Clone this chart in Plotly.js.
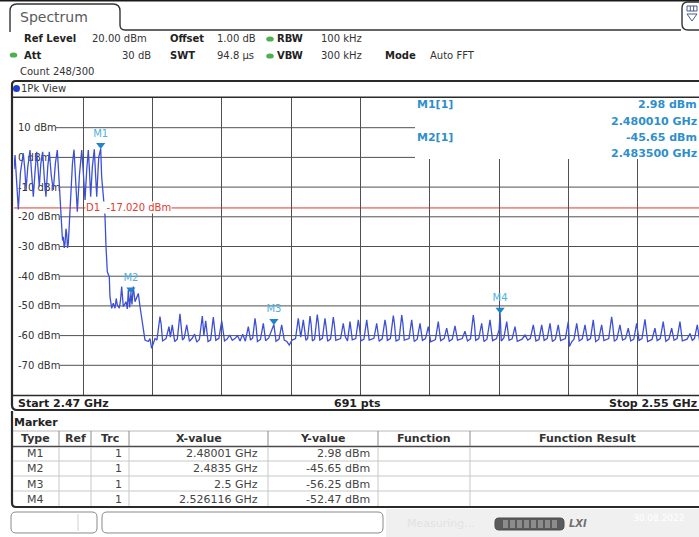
<!DOCTYPE html>
<html><head><meta charset="utf-8">
<script src="https://cdn.plot.ly/plotly-3.0.1.min.js"></script>
<style>html,body{margin:0;padding:0;background:#fff;overflow:hidden}#chart{width:699px;height:537px}</style>
</head><body><div id="chart"></div>
<script>
// ---------------- DATA ----------------
const startMHz = 2470, stopMHz = 2550, sweepPoints = 691;
const refLevelDbm = 20, rangeDb = 100;
// trace 1 (frequency MHz, level dBm)
const signalPoints = [
 [2470.00,-4.0],[2470.12,0.8],[2470.30,-8.0],[2470.50,-17.5],[2470.75,-5.0],[2471.07,1.4],[2471.25,-4.0],[2471.39,-11.0],
 [2471.60,-3.0],[2471.85,2.5],[2472.05,-6.0],[2472.23,-13.2],[2472.45,-4.0],[2472.62,1.9],[2472.78,-4.0],[2472.92,-9.9],
 [2473.10,-2.0],[2473.31,1.9],[2473.50,-7.0],[2473.69,-13.2],[2473.90,-3.0],[2474.08,1.9],[2474.30,-6.0],[2474.54,-11.0],
 [2474.78,-2.0],[2475.00,2.5],[2475.15,-5.0],[2475.31,-13.0],[2475.42,-20.0],[2475.50,-24.5],[2475.60,-28.0],[2475.69,-26.7],
 [2475.80,-30.5],[2475.89,-29.0],[2476.00,-24.0],[2476.08,-25.6],[2476.18,-30.5],[2476.27,-29.0],[2476.40,-22.0],[2476.54,-14.3],
 [2476.75,-2.0],[2476.93,2.6],[2477.12,-8.0],[2477.31,-18.3],[2477.55,-6.0],[2477.82,2.5],[2478.00,-5.0],[2478.20,-14.3],
 [2478.40,-4.0],[2478.58,2.5],[2478.72,-5.0],[2478.85,-13.2],[2479.05,-3.0],[2479.27,2.7],[2479.42,-6.0],[2479.55,-13.2],
 [2479.78,0.0],[2480.01,2.98],[2480.12,-6.5],[2480.30,-14.3],[2480.50,-19.4],[2480.62,-30.0],[2480.77,-38.5],[2481.00,-40.2]
];
const skirtPoints = [
 [2481.08,-46.9],[2481.28,-50.8],[2481.46,-49.1],[2481.66,-50.8],[2481.80,-47.5],[2481.93,-49.7],[2482.16,-50.8],[2482.30,-48.0],
 [2482.43,-43.5],[2482.62,-50.3],[2482.80,-49.5],[2482.93,-48.6],[2483.08,-51.0],[2483.20,-44.6],[2483.35,-50.5],[2483.50,-45.65],
 [2483.62,-49.5],[2483.77,-43.5],[2483.97,-48.6],[2484.15,-47.0],[2484.35,-45.8],[2484.55,-50.3],[2484.74,-54.7],[2484.93,-58.1],
 [2485.12,-61.5],[2485.50,-62.0],[2485.70,-61.0],[2485.89,-64.3],[2486.10,-62.5],[2486.28,-61.0]
];
const floorPoints = [
 [2486.50,-61.5],[2486.85,-53.6],[2486.98,-56.0],[2487.15,-61.8],[2487.55,-61.0],[2487.89,-57.0],[2488.05,-60.5],[2488.27,-56.4],[2488.55,-62.0],
 [2488.85,-61.2],[2489.16,-52.7],[2489.28,-55.5],[2489.45,-61.5],[2489.65,-60.8],[2489.94,-56.4],[2490.25,-61.9],[2490.55,-61.0],[2490.85,-59.5],
 [2491.10,-62.2],[2491.40,-61.3],[2491.74,-53.4],[2491.92,-60.0],[2492.13,-55.0],[2492.40,-62.0],[2492.70,-61.4],[2493.01,-53.8],[2493.14,-56.5],
 [2493.30,-61.6],[2493.65,-60.9],[2493.98,-55.0],[2494.30,-61.8],[2494.60,-61.2],[2494.90,-59.8],[2495.20,-61.6],[2495.50,-61.0],
 [2495.80,-60.0],[2496.10,-61.8],[2496.40,-59.5],[2496.70,-61.9],[2497.05,-57.0],[2497.30,-61.5],[2497.55,-60.9],[2497.82,-54.2],[2497.95,-56.8],
 [2498.10,-62.0],[2498.45,-61.3],[2498.78,-55.9],[2499.05,-61.7],[2499.40,-60.8],[2499.70,-58.5],[2500.00,-56.25],[2500.25,-61.9],
 [2500.60,-61.2],[2500.90,-56.4],[2501.20,-61.5],[2501.50,-62.0],[2501.78,-63.2],[2502.10,-61.5],[2502.50,-61.0],[2502.82,-54.2],[2502.95,-56.6],
 [2503.10,-60.5],[2503.40,-54.7],[2503.70,-61.6],[2503.90,-61.0],[2504.17,-53.4],[2504.30,-56.2],[2504.45,-61.8],[2504.70,-61.2],[2505.01,-52.9],[2505.14,-55.8],
 [2505.30,-61.5],[2505.60,-60.9],[2505.90,-54.2],[2506.03,-57.0],[2506.20,-61.9],[2506.55,-61.1],[2506.86,-53.8],[2506.99,-56.5],[2507.15,-61.6],[2507.70,-61.0],
 [2508.01,-55.9],[2508.25,-60.4],[2508.50,-61.8],[2508.79,-55.3],[2509.05,-61.4],[2509.45,-61.0],[2509.75,-54.7],[2509.88,-57.2],[2510.05,-61.8],
 [2510.40,-61.2],[2510.72,-54.7],[2511.00,-61.5],[2511.55,-60.9],[2511.87,-55.9],[2512.15,-61.9],[2512.50,-61.1],[2512.83,-54.7],[2512.96,-57.0],
 [2513.10,-61.6],[2513.45,-61.0],[2513.79,-53.3],[2513.92,-56.0],[2514.10,-61.8],[2514.45,-61.3],[2514.76,-53.1],[2514.89,-55.9],[2515.05,-61.5],[2515.60,-61.0],
 [2515.91,-54.7],[2516.20,-62.0],[2516.55,-61.2],[2516.87,-55.9],[2517.15,-61.6],[2517.50,-61.0],[2517.83,-57.0],[2518.10,-62.1],
 [2518.65,-61.3],[2518.98,-55.3],[2519.25,-61.7],[2519.65,-61.0],[2519.95,-57.5],[2520.25,-61.9],[2520.60,-61.2],[2520.91,-56.7],
 [2521.20,-61.5],[2521.75,-61.0],[2522.06,-58.5],[2522.35,-61.8],[2522.70,-61.1],[2523.02,-53.1],[2523.15,-56.0],[2523.30,-61.6],[2523.65,-61.0],
 [2523.99,-55.9],[2524.25,-62.0],[2524.60,-61.2],[2524.95,-54.7],[2525.25,-61.7],[2525.70,-61.0],[2526.00,-58.0],[2526.116,-52.47],
 [2526.25,-61.8],[2526.55,-60.8],[2526.88,-55.3],[2527.15,-61.6],[2527.50,-61.1],[2527.84,-57.0],[2528.10,-61.9],[2528.65,-61.2],
 [2528.99,-59.8],[2529.30,-61.5],[2529.60,-61.0],[2529.95,-56.4],[2530.25,-61.8],[2530.60,-61.3],[2530.92,-56.4],[2531.20,-61.6],
 [2531.55,-61.0],[2531.88,-55.9],[2532.15,-62.0],[2532.50,-61.2],[2532.83,-56.4],[2533.10,-61.7],[2533.65,-61.0],[2533.99,-55.3],
 [2534.12,-63.7],[2534.40,-62.0],[2534.65,-61.2],[2534.96,-55.9],[2535.25,-61.8],[2535.60,-61.1],[2535.92,-56.4],[2536.20,-61.6],
 [2536.55,-61.0],[2536.87,-54.7],[2537.15,-62.0],[2537.50,-61.3],[2537.84,-56.4],[2538.10,-61.7],[2538.65,-61.0],[2538.99,-53.7],[2539.12,-56.4],
 [2539.30,-61.9],[2539.60,-61.2],[2539.95,-56.4],[2540.25,-61.5],[2540.60,-61.0],[2540.91,-57.5],[2541.20,-61.8],[2541.55,-61.2],
 [2541.88,-55.9],[2542.15,-61.6],[2542.50,-61.0],[2542.84,-54.5],[2542.97,-57.0],[2543.15,-62.0],[2543.65,-61.3],[2543.99,-57.5],[2544.25,-61.7],
 [2544.60,-61.0],[2544.95,-55.3],[2545.25,-61.9],[2545.60,-61.2],[2545.92,-57.5],[2546.20,-61.6],[2546.55,-61.0],[2546.88,-55.3],
 [2547.15,-61.8],[2547.70,-61.2],[2548.04,-59.3],[2548.30,-61.6],[2548.55,-61.0],[2548.88,-56.4],[2549.15,-61.8],[2549.40,-61.2]
];
const markerNames = ['M1','M2','M3','M4'];
const markerFreqGHz = [2.48001, 2.4835, 2.5, 2.526116];
const markerFreqText = ['2.48001 GHz','2.4835 GHz','2.5 GHz','2.526116 GHz'];
const markerLevelDbm = [2.98, -45.65, -56.25, -52.47];
const markerLevelText = ['2.98 dBm','-45.65 dBm','-56.25 dBm','-52.47 dBm'];
const displayLineDbm = -17.02;
const yTickValues = [10,0,-10,-20,-30,-40,-50,-60,-70];
const yTickLabels = ['10 dBm','0 dBm','-10 dBm','-20 dBm','-30 dBm','-40 dBm','-50 dBm','-60 dBm','-70 dBm'];
const tableHeaders = ['Type','Ref','Trc','X-value','Y-value','Function','Function Result'];

// ---------------- LAYOUT HELPERS ----------------
const W = 699, H = 537;
const px = x => x / W;
const py = y => 1 - y / H;
const FONT = 'DejaVu Sans';
const plotL = 14, plotR = 699, plotT = 98, plotB = 395;
const pxPerMHz = 693 / (stopMHz - startMHz);
const xRangeEnd = startMHz + (plotR - plotL) / pxPerMHz;

const allPts = signalPoints.concat(skirtPoints, floorPoints);
const traceX = allPts.map(p => p[0]);
const traceY = allPts.map(p => p[1]);

function pth(s){ return s.replace(/(-?[\d.]+),(-?[\d.]+)/g,(m,a,b)=>px(+a).toFixed(5)+','+py(+b).toFixed(5)); }
function pshape(s, color, width, fill){ return {type:'path', xref:'paper', yref:'paper', path:pth(s), line:{color:color, width:width}, fillcolor:fill||'rgba(0,0,0,0)', layer:'above'}; }
function hline(x0,x1,y,color,width){ return {type:'line', xref:'paper', yref:'paper', x0:px(x0), x1:px(x1), y0:py(y), y1:py(y), line:{color:color,width:width}, layer:'above'}; }
function vline(x,y0,y1,color,width){ return {type:'line', xref:'paper', yref:'paper', x0:px(x), x1:px(x), y0:py(y0), y1:py(y1), line:{color:color,width:width}, layer:'above'}; }
function rect(x0,y0,x1,y1,fill,line,lw){ return {type:'rect', xref:'paper', yref:'paper', x0:px(x0), x1:px(x1), y0:py(y0), y1:py(y1), fillcolor:fill, line:{color:line||fill, width:lw||0}, layer:'above'}; }
function T(text,x,y,o){ o=o||{}; return {text:text, xref:'paper', yref:'paper', x:px(x), y:py(y), xanchor:o.anchor||'left', yanchor:'middle', showarrow:false, borderpad:0, font:{family:FONT, size:o.size||10, color:o.color||'#333'}}; }

const shapes = [];
const ann = [];

// horizontal grid lines (start right of the in-plot level labels)
const gridStartPx = [56, 50, 60, 60, 60, 60, 60, 60, 60];
yTickValues.forEach((v,i)=>shapes.push({type:'line', xref:'paper', yref:'y', x0:px(gridStartPx[i]), x1:1, y0:v, y1:v, line:{color:'#505050', width:1}, layer:'below'}));
// display line D1
shapes.push({type:'line', xref:'paper', yref:'y', x0:px(plotL), x1:1, y0:displayLineDbm, y1:displayLineDbm, line:{color:'#e0392e', width:1}, layer:'between'});
// marker info box covering the grid
shapes.push(rect(415, 98, 699, 159, '#ffffff'));

// header chrome
shapes.push(hline(0, 699, 0.8, '#1a1a1a', 1.6));
shapes.push(pshape('M10,32 L10,11 Q10,4 17,4 L113,4 Q120,4 120,11 L120,25 Q120,30 125,30 L681,30', '#333', 1.4));
shapes.push(pshape('M700,2 L688,2 Q682,2 682,8 L682,24 Q682,30 688,30 L700,30', '#333', 1.4));
shapes.push(rect(687, 6, 697, 11, '#ffffff', '#4a5a8a', 1));
shapes.push(vline(690.3, 6, 11, '#4a5a8a', 1));
shapes.push(vline(693.6, 6, 11, '#4a5a8a', 1));
shapes.push(pshape('M687,14 L697,14 L692,21 Z', '#4a5a8a', 1));
// green status dots
[[270,39],[13.5,55],[270,56]].forEach(d=>shapes.push({type:'circle', xref:'paper', yref:'paper', x0:px(d[0]-3.8), x1:px(d[0]+3.8), y0:py(d[1]-2.6), y1:py(d[1]+2.6), fillcolor:'#4cb050', line:{width:0}, layer:'above'}));
// blue trace dot
shapes.push({type:'circle', xref:'paper', yref:'paper', x0:px(13), x1:px(20), y0:py(85), y1:py(92), fillcolor:'#1f3fd0', line:{width:0}, layer:'above'});

// diagram frame
shapes.push(pshape('M700,81 L16,81 Q12,81 12,85 L12,405 Q12,410 17,410 L700,410', '#2a2a2a', 2.2));
shapes.push(hline(12, 699, 97.3, '#2a2a2a', 1.4));
shapes.push(hline(12, 699, 395.5, '#2a2a2a', 1.4));

// marker table frame
shapes.push(pshape('M12,411 L12,503 Q12,507 16,507 L700,507', '#2a2a2a', 2.2));
const colX = [59, 91, 129, 268, 378, 470];
shapes.push(hline(13, 699, 431, '#b8b8b8', 1));
shapes.push(hline(13, 699, 446.5, '#4a4a4a', 1.6));
[461, 476, 491].forEach(y=>shapes.push(hline(13, 699, y, '#c8c8c8', 1)));
colX.forEach(x=>{ shapes.push(vline(x, 431, 446, '#8a8a8a', 1)); shapes.push(vline(x, 447, 506, '#c8c8c8', 1)); });

// status bar
shapes.push(pshape('M16,512 L92,512 Q97,512 97,517 L97,528 Q97,533 92,533 L16,533 Q11,533 11,528 L11,517 Q11,512 16,512 Z', '#8a8a8a', 1, '#ffffff'));
shapes.push(vline(78, 514, 531, '#d0d0d0', 1));
shapes.push(pshape('M107,512 L378,512 Q383,512 383,517 L383,528 Q383,533 378,533 L107,533 Q102,533 102,528 L102,517 Q102,512 107,512 Z', '#8a8a8a', 1, '#ffffff'));
shapes.push(rect(386, 509, 699, 537, '#f0f0f0'));
shapes.push(pshape('M499,518 L560,518 Q564,518 564,522 L564,526 Q564,530 560,530 L499,530 Q495,530 495,526 L495,522 Q495,518 499,518 Z', '#4a4a4a', 1, '#5a5a5a'));
[503,510,517,524,531,538,545,552].forEach(x=>shapes.push(rect(x, 520, x+5, 528, '#8c8c8c')));

// header texts
ann.push(T('Spectrum', 19, 17, {size:14, color:'#5a5a5a'}));
ann.push(T('<b>Ref Level</b>', 23, 38.5, {color:'#222'}));
ann.push(T('20.00 dBm', 91, 38.5));
ann.push(T('<b>Offset</b>', 169, 38.5, {color:'#222'}));
ann.push(T('1.00 dB', 216, 38.5));
ann.push(T('<b>RBW</b>', 276, 38.5, {color:'#222'}));
ann.push(T('100 kHz', 320, 38.5));
ann.push(T('<b>Att</b>', 23, 55.5, {color:'#222'}));
ann.push(T('30 dB', 152, 55.5, {anchor:'right'}));
ann.push(T('<b>SWT</b>', 169, 55.5, {color:'#222'}));
ann.push(T('94.8 µs', 216, 55.5));
ann.push(T('<b>VBW</b>', 276, 55.5, {color:'#222'}));
ann.push(T('300 kHz', 320, 55.5));
ann.push(T('<b>Mode</b>', 384, 55.5, {color:'#222'}));
ann.push(T('Auto FFT', 429, 55.5));
ann.push(T('Count 248/300', 19, 72));
ann.push(T('1Pk View', 20, 88.5));

// marker info block
const infoBlue = '#2f8fcc';
ann.push(T('<b>M1[1]</b>', 416, 104, {size:11, color:infoBlue}));
ann.push(T('<b>M2[1]</b>', 416, 137, {size:11, color:infoBlue}));
ann.push(T('<b>' + markerLevelText[0] + '</b>', 698, 104, {size:11, color:infoBlue, anchor:'right'}));
ann.push(T('<b>' + markerFreqGHz[0].toFixed(6) + ' GHz</b>', 698, 121, {size:11, color:infoBlue, anchor:'right'}));
ann.push(T('<b>' + markerLevelText[1] + '</b>', 698, 137, {size:11, color:infoBlue, anchor:'right'}));
ann.push(T('<b>' + markerFreqGHz[1].toFixed(6) + ' GHz</b>', 698, 153, {size:11, color:infoBlue, anchor:'right'}));

// D1 label
ann.push({text:'D1\u00a0\u00a0' + displayLineDbm.toFixed(3) + ' dBm', xref:'paper', yref:'y', x:px(85), y:displayLineDbm, xanchor:'left', yanchor:'middle', showarrow:false, bgcolor:'#ffffff', borderpad:0, font:{family:FONT, size:10, color:'#e0392e'}});

// bottom bar of diagram
ann.push(T('<b>Start ' + (startMHz/1000).toFixed(2) + ' GHz</b>', 17, 403, {size:11, color:'#222'}));
ann.push(T('<b>' + sweepPoints + ' pts</b>', 357.5, 403, {size:11, color:'#222', anchor:'center'}));
ann.push(T('<b>Stop ' + (stopMHz/1000).toFixed(2) + ' GHz</b>', 698, 403, {size:11, color:'#222', anchor:'right'}));

// marker table
ann.push(T('<b>Marker</b>', 13, 422.5, {size:11, color:'#222'}));
const colCenters = [35.5, 75, 110, 198.5, 323, 424, 587];
tableHeaders.forEach((h,i)=>ann.push(T('<b>'+h+'</b>', colCenters[i], 438, {size:11, color:'#333', anchor:'center'})));
const rowY = [453, 468.5, 484, 499];
markerNames.forEach((m,i)=>{
  ann.push(T(m, 35.5, rowY[i], {size:11, color:'#444', anchor:'center'}));
  ann.push(T('1', 122.5, rowY[i], {size:11, color:'#444', anchor:'right'}));
  ann.push(T(markerFreqText[i], 259, rowY[i], {size:11, color:'#444', anchor:'right'}));
  ann.push(T(markerLevelText[i], 371, rowY[i], {size:11, color:'#444', anchor:'right'}));
});

// status bar texts
ann.push(T('Measuring...', 406, 523, {size:11, color:'#e2e2e2'}));
ann.push({text:'<b><i>LXI</i></b>', xref:'paper', yref:'paper', x:px(568), y:py(523.5), xanchor:'left', yanchor:'middle', showarrow:false, borderpad:0, font:{family:FONT, size:10, color:'#707070'}});
ann.push(T('30.08.2022', 632, 518, {size:9, color:'#ffffff'}));

// ---------------- TRACES ----------------
const trace = {x:traceX, y:traceY, type:'scatter', mode:'lines', line:{color:'#3d50d4', width:1.3}, hoverinfo:'skip', showlegend:false};
const triOffsetDb = 3.5 * rangeDb / (plotB - plotT);
const markers = {
  x: markerFreqGHz.map(g => g*1000),
  y: markerLevelDbm.map(v => v + triOffsetDb),
  type:'scatter', mode:'markers+text', text:markerNames, textposition:'top center',
  textfont:{family:FONT, size:10, color:'#4fb0e0'},
  marker:{symbol:'triangle-down', size:8, color:'#1f84cc', line:{width:0}},
  hoverinfo:'skip', showlegend:false, cliponaxis:false
};

const layout = {
  width: W, height: H,
  margin:{l:0, r:0, t:0, b:0},
  paper_bgcolor:'#ffffff', plot_bgcolor:'#ffffff',
  showlegend:false,
  xaxis:{domain:[px(plotL), 1], range:[startMHz, xRangeEnd], showgrid:true, gridcolor:'#505050', gridwidth:1,
         tick0:startMHz, dtick:8, showticklabels:false, ticks:'', zeroline:false, showline:false, fixedrange:true},
  yaxis:{domain:[py(plotB), py(plotT)], range:[refLevelDbm - rangeDb, refLevelDbm], showgrid:false, zeroline:false, showline:false,
         tickvals:yTickValues, ticktext:yTickLabels, ticks:'', ticklabelposition:'inside', ticklabelstandoff:1,
         layer:'below traces', tickfont:{family:FONT, size:10, color:'#333'}, fixedrange:true},
  shapes: shapes,
  annotations: ann
};
Plotly.newPlot('chart', [trace, markers], layout, {staticPlot:true, displayModeBar:false});
</script>
</body></html>
